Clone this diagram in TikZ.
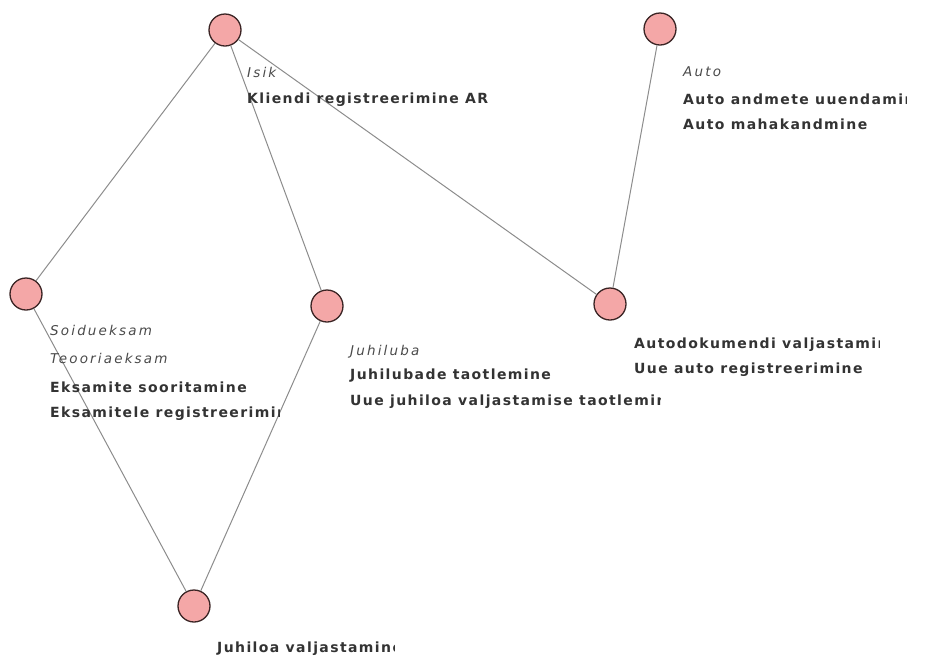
\documentclass[tikz,border=0pt]{standalone}
\usepackage{fontspec}
\setmainfont{DejaVu Sans}
\newfontfamily\lblfont[LetterSpace=10]{DejaVu Sans}
\newfontfamily\kindfont[LetterSpace=16]{DejaVu Sans}
\definecolor{entfill}{HTML}{F4A7A7}
\definecolor{entedge}{HTML}{3A2424}
\definecolor{linkgray}{HTML}{8C8C8C}
\definecolor{textdark}{HTML}{333333}
\definecolor{italgray}{HTML}{4A4A4A}
\tikzset{
  ent/.style={circle, draw=entedge, fill=entfill, line width=1.3pt,
    minimum size=32pt, inner sep=0pt},
  link/.style={draw=linkgray, line width=1pt},
  kind/.style={anchor=base west, inner sep=0pt, text=italgray,
    font=\kindfont\itshape\fontsize{13.5}{15}\selectfont},
  act/.style={anchor=base west, inner sep=0pt, text=textdark,
    font=\lblfont\bfseries\fontsize{14}{16}\selectfont}
}
\begin{document}
\begin{tikzpicture}[x=1pt,y=-1pt]
\useasboundingbox (0,0) rectangle (930,657);

% entities
\node[ent] (isik)  at (225,30)  {};
\node[ent] (auto)  at (660,29)  {};
\node[ent] (soidu) at (26,294)  {};
\node[ent] (juhi)  at (327,306) {};
\node[ent] (adok)  at (610,304) {};
\node[ent] (jval)  at (194,606) {};

% links
\draw[link] (isik) -- (soidu);
\draw[link] (isik) -- (juhi);
\draw[link] (isik) -- (adok);
\draw[link] (auto) -- (adok);
\draw[link] (soidu) -- (jval);
\draw[link] (juhi) -- (jval);

% labels (long lines are cut off at the label box edge)
\node[kind] (isikA) at (247,77)  {Isik};
\node[act]  (isikB) at (247,103) {Kliendi registreerimine AR};

\begin{scope}
  \clip (670,55) rectangle (906,140);
  \node[kind] (autoA) at (683,76)  {Auto};
  \node[act]  (autoB) at (683,104) {Auto andmete uuendamine};
  \node[act]  (autoC) at (683,129) {Auto mahakandmine};
\end{scope}

\begin{scope}
  \clip (40,320) rectangle (279,430);
  \node[kind] (soiduA) at (50,335) {Soidueksam};
  \node[kind] (soiduB) at (50,363) {Teooriaeksam};
  \node[act]  (soiduC) at (50,392) {Eksamite sooritamine};
  \node[act]  (soiduD) at (50,417) {Eksamitele registreerimine};
\end{scope}

\begin{scope}
  \clip (340,335) rectangle (660,415);
  \node[kind] (juhiA) at (350,355) {Juhiluba};
  \node[act]  (juhiB) at (350,379) {Juhilubade taotlemine};
  \node[act]  (juhiC) at (350,405) {Uue juhiloa valjastamise taotlemine};
\end{scope}

\begin{scope}
  \clip (625,330) rectangle (879,385);
  \node[act] (adokA) at (634,348) {Autodokumendi valjastamine};
  \node[act] (adokB) at (634,373) {Uue auto registreerimine};
\end{scope}

\begin{scope}
  \clip (210,630) rectangle (394,657);
  \node[act] (jvalA) at (217,652) {Juhiloa valjastamine};
\end{scope}
\end{tikzpicture}
\end{document}
